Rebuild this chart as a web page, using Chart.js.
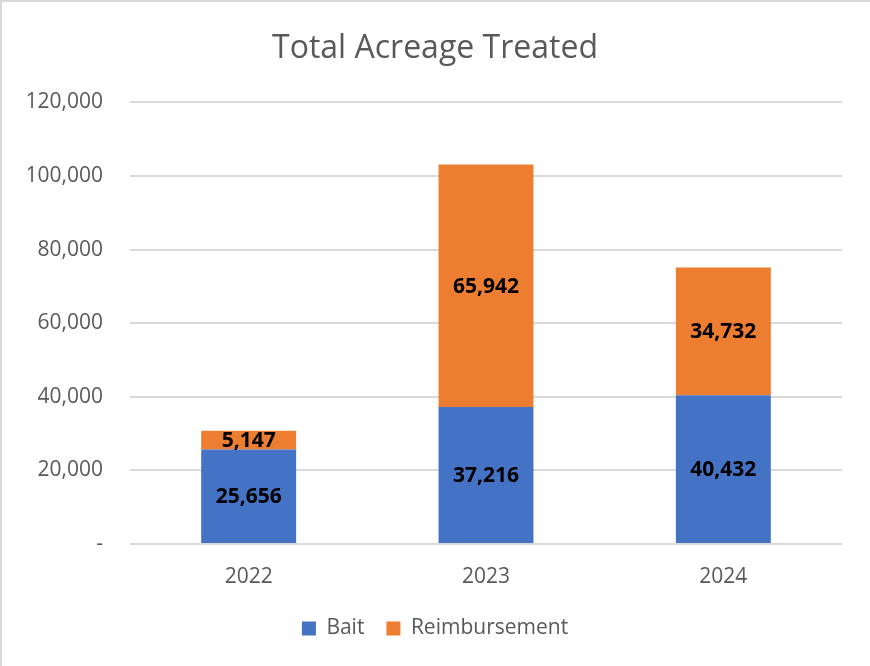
<!DOCTYPE html>
<html>
<head>
<meta charset="utf-8">
<script src="https://cdn.jsdelivr.net/npm/chart.js@4/dist/chart.umd.min.js"></script>
<style>
  html, body { margin: 0; padding: 0; background: #fff; }
  #wrap { position: relative; width: 870px; height: 666px; box-sizing: border-box; border-top: 2px solid #d9d9d9; border-left: 2px solid #d9d9d9; }
  #c { position: absolute; left: -2px; top: -2px; }
</style>
</head>
<body>
<div id="wrap"><canvas id="c" width="870" height="666"></canvas></div>
<script>
const categories = ['2022', '2023', '2024'];
const baitValues = [25656, 37216, 40432];
const reimbursementValues = [5147, 65942, 34732];
const seriesNames = ['Bait', 'Reimbursement'];
const chartTitle = 'Total Acreage Treated';

const FONT = "'Open Sans', 'Noto Sans', sans-serif";
const TEXT = '#595959';

const labelPlugin = {
  id: 'barLabels',
  afterDatasetsDraw(chart) {
    const ctx = chart.ctx;
    ctx.save();
    ctx.font = 'bold 21px ' + FONT;
    ctx.fillStyle = '#000';
    ctx.textAlign = 'center';
    ctx.textBaseline = 'middle';
    chart.data.datasets.forEach((ds, di) => {
      const meta = chart.getDatasetMeta(di);
      meta.data.forEach((bar, i) => {
        const v = ds.data[i];
        const yMid = (bar.y + bar.base) / 2;
        ctx.fillText(v.toLocaleString('en-US'), bar.x, yMid + 1);
      });
    });
    ctx.restore();
  }
};

new Chart(document.getElementById('c'), {
  type: 'bar',
  data: {
    labels: categories,
    datasets: [
      { label: seriesNames[0], data: baitValues, backgroundColor: '#4472C4', borderWidth: 0, categoryPercentage: 0.8, barPercentage: 0.5 },
      { label: seriesNames[1], data: reimbursementValues, backgroundColor: '#ED7D31', borderWidth: 0, categoryPercentage: 0.8, barPercentage: 0.5 }
    ]
  },
  options: {
    responsive: false,
    animation: false,
    devicePixelRatio: 1,
    layout: { padding: { left: 28, right: 28, top: 0, bottom: 17 } },
    plugins: {
      title: {
        display: true,
        text: chartTitle,
        color: TEXT,
        font: { family: FONT, size: 32, weight: '400' },
        padding: { top: 30, bottom: 34 }
      },
      legend: {
        position: 'bottom',
        labels: {
          color: TEXT,
          font: { family: FONT, size: 21 },
          boxWidth: 14,
          boxHeight: 14,
          padding: 22
        }
      },
      tooltip: { enabled: false }
    },
    scales: {
      x: {
        stacked: true,
        afterFit(scale) { scale.height = 52; },
        grid: { display: false, drawTicks: false },
        border: { display: false },
        ticks: { color: TEXT, font: { family: FONT, size: 21 }, padding: 20 }
      },
      y: {
        stacked: true,
        min: 0,
        max: 120000,
        afterFit(scale) { scale.width = 102; },
        grid: { color: '#d9d9d9', lineWidth: 2, drawTicks: false },
        border: { display: false },
        ticks: {
          stepSize: 20000,
          color: TEXT,
          font: { family: FONT, size: 21 },
          padding: 27,
          callback: (v) => v === 0 ? '-' : v.toLocaleString('en-US')
        }
      }
    }
  },
  plugins: [labelPlugin]
});
</script>
</body>
</html>
